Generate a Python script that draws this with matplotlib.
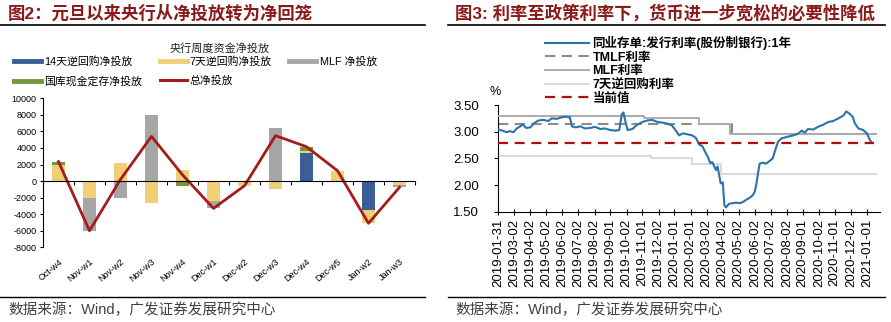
import matplotlib
matplotlib.use("Agg")
import matplotlib.pyplot as plt
import matplotlib.dates as mdates
from matplotlib.lines import Line2D
import numpy as np
import pandas as pd

plt.rcParams['font.family'] = ['Liberation Sans', 'Noto Sans CJK SC', 'DejaVu Sans']
plt.rcParams['axes.unicode_minus'] = False

# ---- left chart data: weekly PBoC net injection ----
weeks = ['Oct-w4', 'Nov-w1', 'Nov-w2', 'Nov-w3', 'Nov-w4', 'Dec-w1',
         'Dec-w2', 'Dec-w3', 'Dec-w4', 'Dec-w5', 'Jan-w2', 'Jan-w3']
rr14 = [0, 0, 0, 0, 0, 0, 0, 0, 3350, 0, -3550, 0]
rr7 = [1900, -2000, 2200, -2600, 1300, -2400, -560, -960, 300, 1250, -1550, -500]
mlf_net = [0, -4000, -2000, 8000, 0, -900, 0, 6450, 0, 0, 0, -250]
treasury = [450, 0, 0, 0, -550, 0, 0, 0, 500, 0, 0, 0]
total = [2350, -6000, 200, 5400, 750, -3300, -560, 5490, 4150, 1250, -5100, -750]

# ---- right chart data ----
ncd_dates = ['2019-01-31', '2019-02-08', '2019-02-16', '2019-02-22', '2019-03-01', '2019-03-07',
             '2019-03-14', '2019-03-18', '2019-03-25', '2019-04-02', '2019-04-08', '2019-04-17',
             '2019-04-27', '2019-05-06', '2019-05-13', '2019-05-22', '2019-06-01', '2019-06-10',
             '2019-06-16', '2019-06-20', '2019-06-27', '2019-07-06', '2019-07-15', '2019-07-25',
             '2019-08-03', '2019-08-13', '2019-08-22', '2019-09-01', '2019-09-11', '2019-09-18',
             '2019-09-23', '2019-09-26', '2019-09-30', '2019-10-04', '2019-10-13', '2019-10-22',
             '2019-11-01', '2019-11-10', '2019-11-20', '2019-11-30', '2019-12-09', '2019-12-18',
             '2019-12-27', '2020-01-03', '2020-01-10', '2020-01-17', '2020-01-26', '2020-02-04',
             '2020-02-11', '2020-02-17', '2020-02-23', '2020-03-01', '2020-03-05', '2020-03-09',
             '2020-03-13', '2020-03-20', '2020-03-23', '2020-03-26', '2020-03-29', '2020-04-02',
             '2020-04-05', '2020-04-08', '2020-04-14', '2020-04-21', '2020-04-27', '2020-05-04',
             '2020-05-10', '2020-05-16', '2020-05-23', '2020-05-29', '2020-06-02', '2020-06-05',
             '2020-06-08', '2020-06-11', '2020-06-17', '2020-06-23', '2020-06-30', '2020-07-06',
             '2020-07-09', '2020-07-12', '2020-07-16', '2020-07-22', '2020-08-01', '2020-08-14',
             '2020-08-23', '2020-08-30', '2020-09-05', '2020-09-11', '2020-09-21', '2020-09-30',
             '2020-10-10', '2020-10-19', '2020-10-29', '2020-11-08', '2020-11-17', '2020-11-23',
             '2020-11-30', '2020-12-05', '2020-12-09', '2020-12-16', '2020-12-25', '2021-01-01',
             '2021-01-07', '2021-01-11']
ncd_rate = [3.04, 3.02, 2.99, 3.01, 2.99, 3.06,
            3.10, 3.14, 3.07, 3.08, 3.15, 3.21,
            3.22, 3.20, 3.25, 3.24, 3.27, 3.28,
            3.27, 3.10, 3.08, 3.10, 3.06, 3.07,
            3.09, 3.05, 3.06, 3.03, 3.02, 3.03,
            3.33, 3.36, 3.18, 3.03, 3.05, 3.13,
            3.18, 3.21, 3.22, 3.18, 3.17, 3.15,
            3.12, 3.03, 2.93, 2.97, 2.95, 2.93,
            2.88, 2.76, 2.73, 2.59, 2.52, 2.41,
            2.43, 2.28, 2.35, 2.19, 2.03, 2.05,
            1.62, 1.58, 1.65, 1.66, 1.67, 1.66,
            1.68, 1.72, 1.76, 1.81, 1.88, 2.03,
            2.22, 2.40, 2.42, 2.40, 2.45, 2.50,
            2.60, 2.69, 2.81, 2.87, 2.90, 2.93,
            2.96, 3.02, 2.98, 3.05, 3.04, 3.09,
            3.13, 3.18, 3.20, 3.25, 3.30, 3.38,
            3.33, 3.28, 3.16, 3.06, 3.03, 2.97,
            2.84, 2.79]

tmlf_dates = ['2019-01-31', '2020-04-20', '2021-01-18']
tmlf_rate = [3.15, 2.95, 2.95]
mlf_dates = ['2019-01-31', '2019-11-05', '2020-02-17', '2020-04-15', '2021-01-18']
mlf_rate = [3.30, 3.25, 3.15, 2.95, 2.95]
rr7_dates = ['2019-01-31', '2019-11-18', '2020-02-03', '2020-03-30', '2021-01-18']
rr7_rate = [2.55, 2.50, 2.40, 2.20, 2.20]
current_value = 2.78
current_span = ['2019-01-31', '2021-01-14']

date_ticks = ['2019-01-31', '2019-03-02', '2019-04-02', '2019-05-02', '2019-06-02', '2019-07-02',
              '2019-08-02', '2019-09-01', '2019-10-02', '2019-11-01', '2019-12-02', '2020-01-01',
              '2020-02-01', '2020-03-02', '2020-04-02', '2020-05-02', '2020-06-02', '2020-07-02',
              '2020-08-02', '2020-09-01', '2020-10-02', '2020-11-01', '2020-12-02', '2021-01-01']

c14, c7, cmlf, cgk, cline = '#3A5E96', '#F0CF77', '#A6A6A6', '#76953F', '#A51C1C'
title_color = '#8B1A1A'

fig = plt.figure(figsize=(8.91, 3.22), dpi=100)
W, H = 891, 322


def fx(px):
    return px / W


def fy(py):
    return 1 - py / H


# titles, rules and source lines
fig.text(fx(8), fy(13), '图2：元旦以来央行从净投放转为净回笼', fontsize=12.5, weight='bold',
         color=title_color, va='center', ha='left')
fig.text(fx(455), fy(13), '图3: 利率至政策利率下，货币进一步宽松的必要性降低', fontsize=12.5,
         weight='bold', color=title_color, va='center', ha='left')
for x0, x1 in [(0, 425), (448, 885)]:
    fig.add_artist(Line2D([fx(x0), fx(x1)], [fy(25), fy(25)], color='black', lw=1.2))
    fig.add_artist(Line2D([fx(x0), fx(x1)], [fy(297), fy(297)], color='black', lw=1.0))
for x0 in [8, 455]:
    fig.text(fx(x0), fy(310), '数据来源：Wind，广发证券发展研究中心', fontsize=10.5,
             color='#404040', va='center', ha='left')

# ---------------- left chart ----------------
ax = fig.add_axes([fx(43), fy(247.3), fx(415 - 43), (247.3 - 98.3) / H])
x = np.arange(len(weeks))
series = [(rr14, c14), (rr7, c7), (mlf_net, cmlf), (treasury, cgk)]
pos = np.zeros(len(weeks))
neg = np.zeros(len(weeks))
for vals, col in series:
    v = np.array(vals, dtype=float)
    bottom = np.where(v >= 0, pos, neg)
    ax.bar(x, v, 0.42, bottom=bottom, color=col, zorder=2)
    pos += np.where(v >= 0, v, 0)
    neg += np.where(v < 0, v, 0)
ax.plot(x, total, color=cline, lw=2.0, zorder=3)

ax.set_xlim(-0.5, len(weeks) - 0.5)
ax.set_ylim(-8000, 10000)
ax.set_yticks(np.arange(-8000, 10001, 2000))
ax.tick_params(axis='y', labelsize=6.5, length=2.5, width=0.8, pad=2)
ax.spines['top'].set_visible(False)
ax.spines['right'].set_visible(False)
ax.spines['bottom'].set_position(('data', 0))
ax.spines['bottom'].set_zorder(4)
ax.set_xticks(np.arange(-0.5, len(weeks), 1.0))
ax.set_xticklabels([])
ax.tick_params(axis='x', length=3, width=0.8, direction='out')
sec = ax.secondary_xaxis('bottom')
sec.spines['bottom'].set_visible(False)
sec.set_xticks(x, weeks)
sec.tick_params(length=0, pad=7, labelsize=6.5)
for lbl in sec.get_xticklabels():
    lbl.set_rotation(40)
    lbl.set_ha('right')
    lbl.set_va('top')
    lbl.set_rotation_mode('anchor')

fig.text(fx(220), fy(48), '央行周度资金净投放', fontsize=8, ha='center', va='center', color='#222222')
left_handles = [Line2D([], [], color=c14, lw=3.5), Line2D([], [], color=cgk, lw=3.5),
                Line2D([], [], color=c7, lw=3.5), Line2D([], [], color=cline, lw=2.2),
                Line2D([], [], color=cmlf, lw=3.5)]
left_labels = ['14天逆回购净投放', '国库现金定存净投放', '7天逆回购净投放', '总净投放', 'MLF 净投放']
fig.legend(left_handles, left_labels, loc='upper left', bbox_to_anchor=(fx(14), fy(56)),
           ncol=3, frameon=False, fontsize=7.8, handlelength=2.5, handletextpad=0.3,
           columnspacing=1.6, labelspacing=0.85, borderpad=0, borderaxespad=0)

# ---------------- right chart ----------------
ax2 = fig.add_axes([fx(498.3), fy(211.7), fx(880 - 498.3), (211.7 - 105) / H])
d = pd.to_datetime
ax2.plot(d(ncd_dates), ncd_rate, color='#2A74AB', lw=1.5, zorder=4,
         label='同业存单:发行利率(股份制银行):1年')
ax2.plot(d(tmlf_dates), tmlf_rate, drawstyle='steps-post', color='#8C8C8C', lw=1.5,
         dashes=(5, 3), zorder=2, label='TMLF利率')
ax2.plot(d(mlf_dates), mlf_rate, drawstyle='steps-post', color='#ABABAB', lw=1.4, zorder=3,
         label='MLF利率')
ax2.plot(d(rr7_dates), rr7_rate, drawstyle='steps-post', color='#D9D9D9', lw=1.4, zorder=2,
         label='7天逆回购利率')
ax2.plot(d(current_span), [current_value, current_value], color='#B40C0C', lw=1.6,
         dashes=(4.5, 3), zorder=5, label='当前值')

ax2.set_xlim(d('2019-01-31'), d('2021-01-26'))
ax2.set_ylim(1.5, 3.5)
ax2.set_yticks([1.5, 2.0, 2.5, 3.0, 3.5])
ax2.yaxis.set_major_formatter(plt.FormatStrFormatter('%.2f'))
ax2.tick_params(axis='y', labelsize=9.5, length=3, width=0.8, pad=11)
ax2.set_xticks(d(date_ticks))
ax2.xaxis.set_major_formatter(mdates.DateFormatter('%Y-%m-%d'))
ax2.tick_params(axis='x', labelsize=9.5, rotation=90, length=4, width=0.8, direction='inout', pad=3)
ax2.spines['top'].set_visible(False)
ax2.spines['right'].set_visible(False)
ax2.text(fx(495), fy(92), '%', transform=fig.transFigure, fontsize=9, ha='center', va='center')

leg = ax2.legend(loc='upper left', bbox_to_anchor=(fx(545), fy(36)),
                 bbox_transform=fig.transFigure, frameon=False,
                 handlelength=3.5, handletextpad=0.3, labelspacing=0.12, borderpad=0,
                 borderaxespad=0, prop={'weight': 'bold', 'size': 9})

fig.savefig('out.png', dpi=100)
